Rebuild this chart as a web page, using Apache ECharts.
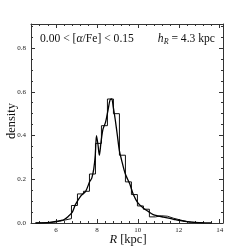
<!DOCTYPE html>
<html><head><meta charset="utf-8">
<script src="https://cdn.jsdelivr.net/npm/echarts@6/dist/echarts.min.js"></script>
<style>html,body{margin:0;padding:0;background:#fff}#c{width:249px;height:249px}</style>
</head><body><div id="c"></div>
<script>
// Histogram bin edges (kpc) and bin densities
const binEdges = [5.0,5.293,5.586,5.879,6.171,6.464,6.757,7.05,7.343,7.636,7.929,8.221,8.514,8.807,9.1,9.393,9.686,9.979,10.271,10.564,10.857,11.15,11.443,11.736,12.029,12.321,12.614,12.907,13.2];
const binDensity = [0.001,0.002,0.003,0.008,0.014,0.02,0.08,0.133,0.145,0.224,0.364,0.445,0.567,0.5,0.31,0.188,0.13,0.078,0.063,0.028,0.033,0.031,0.022,0.015,0.008,0.004,0.002,0.001];
// Smooth density estimate
const kdeR = [5.0,5.4,5.7,6.0,6.2,6.4,6.6,6.8,6.95,7.2,7.45,7.65,7.75,7.85,7.92,7.98,8.05,8.12,8.2,8.3,8.42,8.55,8.64,8.72,8.8,8.9,9.0,9.1,9.2,9.37,9.5,9.62,9.78,10.0,10.27,10.5,10.75,11.0,11.25,11.5,11.75,12.0,12.3,12.6,13.0,13.3,13.6];
const kdeDensity = [0.0,0.001,0.003,0.007,0.011,0.016,0.03,0.05,0.084,0.122,0.145,0.19,0.205,0.25,0.31,0.40,0.36,0.31,0.37,0.43,0.46,0.52,0.562,0.568,0.53,0.47,0.40,0.33,0.29,0.229,0.2,0.175,0.13,0.092,0.068,0.053,0.038,0.032,0.027,0.022,0.017,0.012,0.008,0.004,0.0015,0.0005,0.0];
const xMajor = [6,8,10,12,14];
const yMajor = [0.0,0.2,0.4,0.6,0.8];
const xMinor = [5.2,5.6,6.4,6.8,7.2,7.6,8.4,8.8,9.2,9.6,10.4,10.8,11.2,11.6,12.4,12.8,13.2,13.6];
const yMinor = [0.05,0.1,0.15,0.25,0.3,0.35,0.45,0.5,0.55,0.65,0.7,0.75,0.85,0.9];

const histData = [[binEdges[0],0]];
for (let i=0;i<binDensity.length;i++) histData.push([binEdges[i],binDensity[i]]);
histData.push([binEdges[binEdges.length-1],binDensity[binDensity.length-1]]);
histData.push([binEdges[binEdges.length-1],0]);
const kdeData = kdeR.map((r,i)=>[r,kdeDensity[i]]);

const XMIN=4.78, XMAX=14.16, YMIN=0, YMAX=0.91;
const frame = '#333';
const serif = '"Liberation Serif","DejaVu Serif",serif';
function xa(pos, vals, len, showLabel, showLine){
  return {type:'value',min:XMIN,max:XMAX,position:pos,
    axisLine:{show:showLine,onZero:false,lineStyle:{color:frame,width:1}},
    axisTick:{show:true,inside:true,length:len,customValues:vals,lineStyle:{color:frame,width:1}},
    axisLabel:{show:showLabel,customValues:xMajor,margin:4,fontSize:7,color:'#222',fontFamily:serif,formatter:v=>String(v)},
    splitLine:{show:false}};
}
function ya(pos, vals, len, showLabel, showLine){
  return {type:'value',min:YMIN,max:YMAX,position:pos,
    axisLine:{show:showLine,onZero:false,lineStyle:{color:frame,width:1}},
    axisTick:{show:true,inside:true,length:len,customValues:vals,lineStyle:{color:frame,width:1}},
    axisLabel:{show:showLabel,customValues:yMajor,margin:5,fontSize:7,color:'#222',fontFamily:serif,formatter:v=>v.toFixed(1)},
    splitLine:{show:false}};
}
const chart = echarts.init(document.getElementById('c'),null,{renderer:'canvas'});
chart.setOption({
  animation:false,
  backgroundColor:'#fff',
  grid:{left:31,top:24,width:192,height:199,containLabel:false},
  xAxis:[xa('bottom',xMajor,4,true,true),xa('bottom',xMinor,2,false,false),xa('top',xMajor,4,false,true),xa('top',xMinor,2,false,false)],
  yAxis:[ya('left',yMajor,4,true,true),ya('left',yMinor,2,false,false),ya('right',yMajor,4,false,true),ya('right',yMinor,2,false,false)],
  series:[
    {type:'line',data:histData,step:'end',showSymbol:false,lineStyle:{color:'#111',width:1},xAxisIndex:0,yAxisIndex:0,clip:true},
    {type:'line',data:kdeData,smooth:0.3,showSymbol:false,lineStyle:{color:'#000',width:1.3},xAxisIndex:0,yAxisIndex:0,clip:true}
  ],
  graphic:[
    {type:'text',left:40,top:33,style:{text:'0.00 < [{i|α}/Fe] < 0.15',font:'11.6px '+serif,fill:'#111',
      rich:{i:{fontStyle:'italic',fontFamily:serif,fontSize:11.6}}}},
    {type:'text',right:34,top:33,style:{text:'{i|h}{s|R} = 4.3 kpc',font:'11.6px '+serif,fill:'#111',
      rich:{i:{fontStyle:'italic',fontFamily:serif,fontSize:11.6},s:{fontStyle:'italic',fontFamily:serif,fontSize:8,padding:[6,0,0,0]}}}},
    {type:'text',x:12,y:121,rotation:Math.PI/2,style:{text:'density',font:'12.5px '+serif,fill:'#111',align:'center',verticalAlign:'middle'}},
    {type:'text',x:128,y:240,style:{text:'{i|R} [kpc]',font:'12.5px '+serif,fill:'#111',align:'center',verticalAlign:'middle',
      rich:{i:{fontStyle:'italic',fontFamily:serif,fontSize:12.5}}}}
  ]
});
</script></body></html>
